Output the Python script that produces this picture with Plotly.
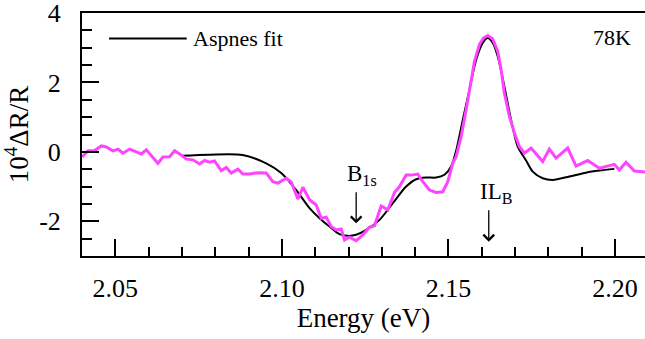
import plotly.graph_objects as go

# Measured spectrum (magenta)
data_energy = [2.0400, 2.0418, 2.0438, 2.0458, 2.0473, 2.0493, 2.0508, 2.0523, 2.0543, 2.0558,
               2.0578, 2.0593, 2.0628, 2.0643, 2.0663, 2.0678, 2.0693, 2.0713, 2.0733, 2.0753,
               2.0768, 2.0783, 2.0798, 2.0818, 2.0833, 2.0848, 2.0868, 2.0883, 2.0903, 2.0928,
               2.0953, 2.0973, 2.0988, 2.1013, 2.1028, 2.1048, 2.1063, 2.1083, 2.1103, 2.1118,
               2.1133, 2.1148, 2.1163, 2.1178, 2.1188, 2.1203, 2.1223, 2.1243, 2.1263, 2.1278,
               2.1298, 2.1318, 2.1338, 2.1353, 2.1373, 2.1388, 2.1408, 2.1423, 2.1443, 2.1463,
               2.1483, 2.1498, 2.1513, 2.1523, 2.1538, 2.1553, 2.1568, 2.1578, 2.1593, 2.1605,
               2.1618, 2.1633, 2.1648, 2.1658, 2.1668, 2.1683, 2.1698, 2.1713, 2.1728, 2.1748,
               2.1783, 2.1803, 2.1823, 2.1858, 2.1883, 2.1918, 2.1953, 2.1998, 2.2013, 2.2033,
               2.2058, 2.2090]
data_signal = [-0.15, 0.03, 0.04, 0.17, 0.14, 0.03, 0.08, -0.04, 0.08, 0.01,
               -0.06, 0.06, -0.33, -0.15, -0.14, 0.03, -0.06, -0.21, -0.23, -0.35,
               -0.25, -0.30, -0.26, -0.54, -0.45, -0.61, -0.50, -0.64, -0.64, -0.60,
               -0.61, -0.86, -0.90, -0.76, -0.87, -1.36, -1.02, -1.38, -1.53, -1.91,
               -1.88, -2.15, -2.25, -2.22, -2.54, -2.46, -2.56, -2.39, -2.17, -2.13,
               -1.56, -1.67, -1.17, -1.00, -0.67, -0.67, -0.64, -0.86, -1.10, -1.17,
               -1.15, -0.86, -0.33, -0.14, 0.44, 1.21, 1.98, 2.60, 3.09, 3.28,
               3.35, 3.25, 2.89, 2.37, 1.69, 1.02, 0.54, 0.15, -0.04, 0.11,
               -0.28, 0.08, -0.18, 0.11, -0.41, -0.25, -0.47, -0.36, -0.52, -0.30,
               -0.55, -0.58]

# Aspnes fit (black)
fit_energy = [2.0698, 2.0783, 2.0882, 2.0953, 2.0998, 2.1043, 2.1083, 2.1113, 2.1143, 2.1173,
              2.1198, 2.1223, 2.1253, 2.1293, 2.1333, 2.1373, 2.1403, 2.1433, 2.1463, 2.1488,
              2.1508, 2.1523, 2.1543, 2.1563, 2.1583, 2.1603, 2.1618, 2.1633, 2.1648, 2.1668,
              2.1688, 2.1708, 2.1733, 2.1753, 2.1783, 2.1813, 2.1863, 2.1913, 2.1953, 2.1998]
fit_signal = [-0.11, -0.08, -0.09, -0.33, -0.61, -1.10, -1.62, -1.91, -2.15, -2.37,
              -2.42, -2.39, -2.25, -1.96, -1.48, -1.00, -0.79, -0.74, -0.74, -0.66,
              -0.42, 0.03, 0.92, 1.79, 2.65, 3.14, 3.28, 3.14, 2.75, 1.88,
              0.92, 0.15, -0.25, -0.57, -0.76, -0.81, -0.71, -0.60, -0.54, -0.49]

# Marked transitions: label, energy, arrow top, arrow tip
marker_labels = ["B<sub>1s</sub>", "IL<sub>B</sub>"]
marker_energy = [2.1223, 2.1621]
marker_top = [-1.12, -1.64]
marker_tip = [-2.06, -2.59]

x_ticks = [2.05, 2.10, 2.15, 2.20]
x_ticklabels = ["2.05", "2.10", "2.15", "2.20"]
y_ticks = [-2, 0, 2, 4]
y_ticklabels = ["-2", "0", "2", "4"]

FONT = "'Times New Roman', 'Liberation Serif', serif"

def f(size):
    return dict(family=FONT, size=size, color="black")

fig = go.Figure()
fig.add_trace(go.Scatter(x=fit_energy, y=fit_signal, mode="lines", name="Aspnes fit",
                         line=dict(color="black", width=2, shape="spline", smoothing=0.8),
                         showlegend=False))
fig.add_trace(go.Scatter(x=data_energy, y=data_signal, mode="lines", name="data",
                         line=dict(color="#FF44FF", width=3), showlegend=False))

annotations = []
for lab, e, top, tip in zip(marker_labels, marker_energy, marker_top, marker_tip):
    annotations.append(dict(x=e, y=tip, ax=e, ay=top, xref="x", yref="y", axref="x", ayref="y",
                            text="", showarrow=True, arrowhead=4, arrowsize=1.6, arrowwidth=1.3,
                            arrowcolor="black"))
    annotations.append(dict(x=e, y=top, xref="x", yref="y", text=lab, showarrow=False,
                            yanchor="bottom", xanchor="left", xshift=-11, yshift=0,
                            font=f(23)))

# legend (line sample + text) and temperature
annotations.append(dict(x=0.193, y=0.895, xref="paper", yref="paper", text="Aspnes fit",
                        showarrow=False, xanchor="left", yanchor="middle", font=f(22)))
annotations.append(dict(x=0.978, y=0.9, xref="paper", yref="paper", text="78K",
                        showarrow=False, xanchor="right", yanchor="middle", font=f(22)))

fig.update_layout(
    template="none",
    width=645, height=339,
    margin=dict(l=82, r=0, t=13, b=83, pad=0),
    plot_bgcolor="white", paper_bgcolor="white",
    font=f(26),
    annotations=annotations,
    shapes=[dict(type="line", xref="paper", yref="paper", x0=0.048, x1=0.186, y0=0.895, y1=0.895,
                 line=dict(color="black", width=2))],
    xaxis=dict(range=[2.04, 2.209], tickvals=x_ticks, ticktext=x_ticklabels,
               ticks="inside", ticklen=17, tickwidth=2, tickcolor="black",
               showline=True, linewidth=2, linecolor="black", mirror=True,
               showgrid=False, zeroline=False, ticklabelstandoff=8, automargin=False,
               ticklabeloverflow="allow", tickfont=f(26),
               minor=dict(dtick=0.01, tick0=2.0, ticks="inside", ticklen=9, tickwidth=2,
                          tickcolor="black", showgrid=False),
               title=dict(text="Energy (eV)", font=f(27), standoff=2)),
    yaxis=dict(range=[-3, 4], tickvals=y_ticks, ticktext=y_ticklabels,
               ticks="inside", ticklen=17, tickwidth=2, tickcolor="black",
               showline=True, linewidth=2, linecolor="black",
               showgrid=False, zeroline=False, ticklabelstandoff=14, automargin=False,
               ticklabeloverflow="allow", tickfont=f(26),
               minor=dict(dtick=0.5, tick0=0, ticks="inside", ticklen=10, tickwidth=2,
                          tickcolor="black", showgrid=False),
               title=dict(text="10<sup>4</sup>ΔR/R", font=f(27), standoff=8)),
)

fig.write_html("out.html", config={"displayModeBar": False},
               post_script="document.body.style.margin='0';document.body.style.overflow='hidden';")
